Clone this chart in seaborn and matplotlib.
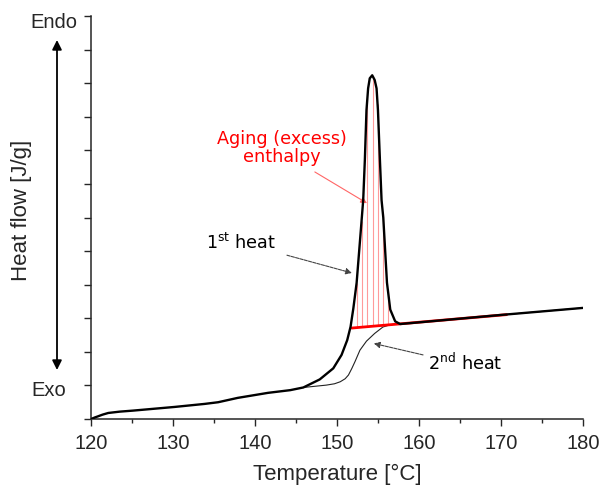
import numpy as np
import pandas as pd
import seaborn as sns
import matplotlib.pyplot as plt

# first heating scan (aged sample)
temp_1st = [120.0, 120.5, 120.85, 121.4, 122.1, 123.5, 125.1, 130.2, 133.85, 135.5,
            137.9, 141.6, 144.3, 145.9, 147.9, 149.55, 150.56, 151.25, 151.66, 152.0,
            152.4, 153.0, 153.2, 153.4, 153.6, 153.8, 154.0, 154.3, 154.6, 154.83,
            155.0, 155.24, 155.44, 155.65, 156.1, 156.5, 157.1, 157.7, 160.0, 170.0,
            180.0]
flow_1st = [0.00, 0.05, 0.08, 0.13, 0.18, 0.22, 0.25, 0.36, 0.45, 0.50,
            0.63, 0.78, 0.86, 0.94, 1.18, 1.51, 1.91, 2.35, 2.75, 3.30,
            4.06, 5.90, 6.52, 7.71, 9.20, 9.85, 10.15, 10.24, 10.10, 9.85,
            9.20, 7.71, 6.52, 6.00, 4.06, 3.26, 2.91, 2.83, 2.88, 3.10,
            3.31]

# second heating scan (rejuvenated sample)
temp_2nd = [145.9, 148.7, 149.7, 150.4, 151.0, 151.4, 151.8, 152.2, 152.8, 153.6,
            154.6, 155.6, 156.5, 160.0, 170.0, 180.0]
flow_2nd = [0.94, 1.01, 1.05, 1.11, 1.20, 1.31, 1.50, 1.71, 2.05, 2.32,
            2.55, 2.74, 2.81, 2.88, 3.10, 3.31]

# glass transition baseline under the aging peak
base_temp = [151.8, 170.7]
base_flow = [2.71, 3.11]

# positions of the red hatch lines
hatch_temp = [152.4, 153.0, 153.7, 154.35, 154.95, 155.6, 156.2]

df1 = pd.DataFrame({"T": temp_1st, "Q": flow_1st})
df2 = pd.DataFrame({"T": temp_2nd, "Q": flow_2nd})

sns.set_style("ticks")
plt.rcParams["font.family"] = ["Liberation Sans", "DejaVu Sans"]
plt.rcParams["mathtext.fontset"] = "dejavusans"
plt.rcParams["lines.solid_joinstyle"] = "round"
plt.rcParams["lines.solid_capstyle"] = "round"

fig = plt.figure(figsize=(6.11, 4.91), dpi=100)
ax = fig.add_axes([0.149, 0.1466, 0.805, 0.8204])

# hatching between peak and baseline
hatch_top = np.interp(hatch_temp, temp_1st, flow_1st)
hatch_bot = np.interp(hatch_temp, base_temp, base_flow)
ax.vlines(hatch_temp, hatch_bot, hatch_top, color="#ff9a9a", lw=0.8, zorder=1)

sns.lineplot(data=df2, x="T", y="Q", ax=ax, color="#222222", lw=0.8, sort=False, zorder=2)
sns.lineplot(x=base_temp, y=base_flow, ax=ax, color="#ff0000", lw=2.0, zorder=3)
sns.lineplot(data=df1, x="T", y="Q", ax=ax, color="black", lw=1.7, sort=False, zorder=4)

ax.set_xlim(120, 180)
ax.set_ylim(0, 12)
ax.set_xticks(np.arange(120, 181, 10))
ax.set_xticks(np.arange(125, 180, 10), minor=True)
ax.set_yticks(np.arange(0, 13, 1))
ax.set_yticklabels([])
ax.tick_params(axis="x", which="major", labelsize=14.5, length=5, width=1, pad=6)
ax.tick_params(axis="x", which="minor", length=3, width=1)
ax.tick_params(axis="y", length=5, width=1)
sns.despine(ax=ax)
for s in ["left", "bottom"]:
    ax.spines[s].set_linewidth(1.1)
ax.set_xlabel("")
ax.set_ylabel("")

fig.text(337 / 611, 1 - 474 / 491, "Temperature [°C]", fontsize=16, ha="center", va="center")
fig.text(22 / 611, 1 - 210 / 491, "Heat flow [J/g]", fontsize=16, rotation=90,
         ha="center", va="center")
fig.text(54 / 611, 1 - 23 / 491, "Endo", fontsize=14.5, ha="center", va="center")
fig.text(49 / 611, 1 - 390 / 491, "Exo", fontsize=14.5, ha="center", va="center")

# endo / exo double arrow
ax.annotate("", xy=(57 / 611, 1 - 40 / 491), xytext=(57 / 611, 1 - 370 / 491),
            xycoords="figure fraction", textcoords="figure fraction",
            arrowprops=dict(arrowstyle="<|-|>", color="black", lw=1.3,
                            mutation_scale=14, shrinkA=0, shrinkB=0))

# annotation texts
ann = dict(family="DejaVu Sans", fontsize=12.7, ha="center", va="center")
ax.text(143.3, 8.07, "Aging (excess)\nenthalpy", color="#ff0000", linespacing=1.05, **ann)
ax.text(138.3, 5.24, r"1$^{\mathrm{st}}$ heat", color="black", **ann)
ax.text(165.6, 1.67, r"2$^{\mathrm{nd}}$ heat", color="black", **ann)

# annotation arrows
red_arrow = dict(arrowstyle="-|>", color="#ff6666", lw=0.8, mutation_scale=9,
                 shrinkA=0, shrinkB=0)
grey_arrow = dict(arrowstyle="-|>", color="#444444", lw=0.8, linestyle=(0, (3, 1)),
                  mutation_scale=9, shrinkA=0, shrinkB=0)
ax.annotate("", xy=(153.66, 6.43), xytext=(147.3, 7.36), arrowprops=red_arrow)
ax.annotate("", xy=(151.83, 4.35), xytext=(143.9, 4.88), arrowprops=grey_arrow)
ax.annotate("", xy=(154.5, 2.25), xytext=(160.5, 1.91), arrowprops=grey_arrow)

fig.savefig("out.png", dpi=100)
